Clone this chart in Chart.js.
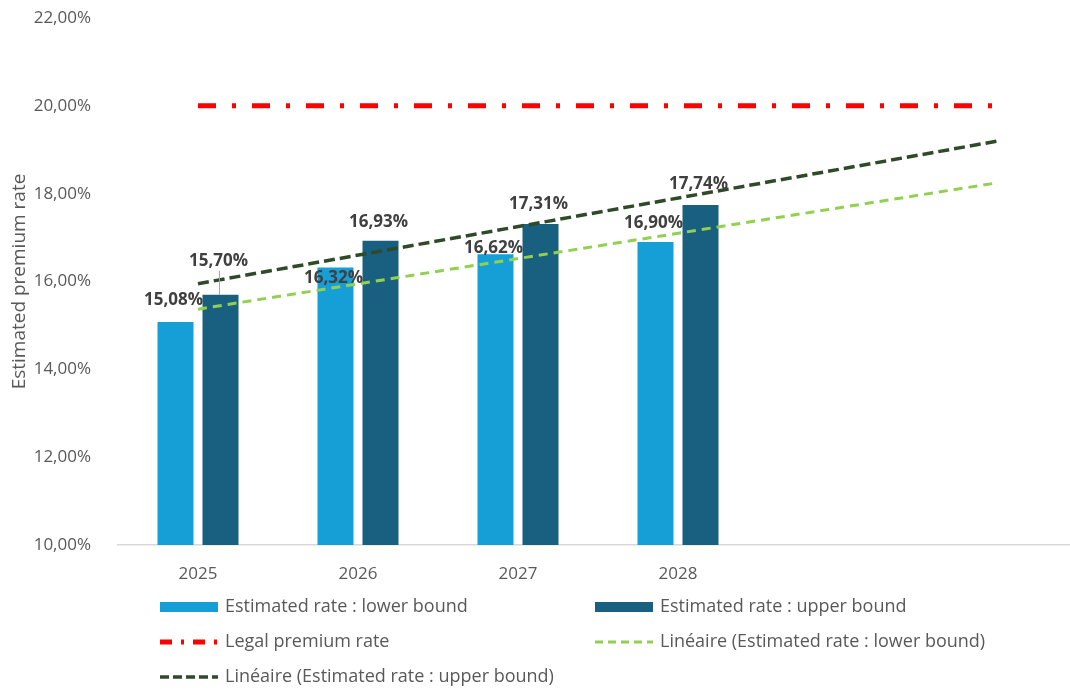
<!DOCTYPE html>
<html>
<head>
<meta charset="utf-8">
<script src="https://cdn.jsdelivr.net/npm/chart.js@4.4.1/dist/chart.umd.min.js"></script>
<style>
  html, body { margin: 0; padding: 0; background: #fff; overflow: hidden; }
  #wrap { width: 1078px; height: 689px; }
</style>
</head>
<body>
<div id="wrap"><canvas id="premium-chart"></canvas></div>
<script>
const years = ['2025', '2026', '2027', '2028', '', ''];
const lowerBound = [15.08, 16.32, 16.62, 16.90];
const upperBound = [15.70, 16.93, 17.31, 17.74];
const legalRate = [20, 20, 20, 20, 20, 20];
// linear trends: first year and end of the two-year forecast
const trendLower = [15.37, null, null, null, null, 18.25];
const trendUpper = [15.95, null, null, null, null, 19.20];
const yMin = 10, yMax = 22, yStep = 2;

const BLUE_LIGHT = '#169ed6';
const BLUE_DARK = '#185f80';
const RED = '#ff0000';
const GREEN_LIGHT = '#92d050';
const GREEN_DARK = '#2f4a28';
const TEXT = '#595959';
const FONT = "'Open Sans', sans-serif";

const pct = (v) => v.toFixed(2).replace('.', ',') + '%';

// label lift above each bar top (px), hand-placed like the original sheet
const liftLower = [22, -11, 6, 19];
const liftUpper = [34, 19, 20, 21];

const valueLabels = {
  id: 'valueLabels',
  afterDatasetsDraw(chart) {
    const ctx = chart.ctx;
    ctx.save();
    ctx.font = "bold 17px " + FONT;
    ctx.fillStyle = '#404040';
    ctx.textAlign = 'center';
    ctx.textBaseline = 'middle';
    [[0, lowerBound, liftLower], [1, upperBound, liftUpper]].forEach(([idx, vals, lift]) => {
      const meta = chart.getDatasetMeta(idx);
      meta.data.forEach((bar, i) => {
        const y = bar.y - lift[i];
        ctx.fillText(pct(vals[i]), bar.x - 2, y);
        if (idx === 1 && i === 0) {
          // leader line for the moved label
          ctx.strokeStyle = '#a6a6a6';
          ctx.lineWidth = 1;
          ctx.beginPath();
          ctx.moveTo(bar.x - 1, y + 10);
          ctx.lineTo(bar.x - 1, bar.y);
          ctx.stroke();
        }
      });
    });
    ctx.restore();
  }
};

const legendItems = [
  { text: 'Estimated rate : lower bound', kind: 'box', color: BLUE_LIGHT, x: 160, y: 607 },
  { text: 'Estimated rate : upper bound', kind: 'box', color: BLUE_DARK, x: 595, y: 607 },
  { text: 'Legal premium rate', kind: 'line', color: RED, width: 5, dash: [12, 9, 3, 9], x: 160, y: 642 },
  { text: 'Linéaire (Estimated rate : lower bound)', kind: 'line', color: GREEN_LIGHT, width: 3, dash: [8, 5], x: 595, y: 642 },
  { text: 'Linéaire (Estimated rate : upper bound)', kind: 'line', color: GREEN_DARK, width: 3.5, dash: [9, 4], x: 160, y: 677 }
];

const sideLegend = {
  id: 'sideLegend',
  afterDraw(chart) {
    const ctx = chart.ctx;
    ctx.save();
    ctx.font = "18px " + FONT;
    ctx.textBaseline = 'middle';
    ctx.textAlign = 'left';
    legendItems.forEach((it) => {
      if (it.kind === 'box') {
        ctx.fillStyle = it.color;
        ctx.fillRect(it.x, it.y - 5, 58, 10);
      } else {
        ctx.strokeStyle = it.color;
        ctx.lineWidth = it.width;
        ctx.setLineDash(it.dash);
        ctx.beginPath();
        ctx.moveTo(it.x, it.y);
        ctx.lineTo(it.x + 58, it.y);
        ctx.stroke();
        ctx.setLineDash([]);
      }
      ctx.fillStyle = TEXT;
      ctx.fillText(it.text, it.x + 65, it.y);
    });
    ctx.restore();
  }
};

new Chart(document.getElementById('premium-chart'), {
  type: 'bar',
  data: {
    labels: years,
    datasets: [
      {
        label: 'Estimated rate : lower bound',
        data: lowerBound,
        backgroundColor: BLUE_LIGHT,
        categoryPercentage: 0.5625,
        barPercentage: 0.8,
        order: 2
      },
      {
        label: 'Estimated rate : upper bound',
        data: upperBound,
        backgroundColor: BLUE_DARK,
        categoryPercentage: 0.5625,
        barPercentage: 0.8,
        order: 2
      },
      {
        type: 'line',
        label: 'Legal premium rate',
        data: legalRate,
        borderColor: RED,
        borderWidth: 5,
        borderDash: [18, 16, 4, 16],
        pointRadius: 0,
        order: 1
      },
      {
        type: 'line',
        label: 'Linéaire (Estimated rate : lower bound)',
        data: trendLower,
        borderColor: GREEN_LIGHT,
        borderWidth: 3,
        borderDash: [9, 6],
        spanGaps: true,
        pointRadius: 0,
        order: 1
      },
      {
        type: 'line',
        label: 'Linéaire (Estimated rate : upper bound)',
        data: trendUpper,
        borderColor: GREEN_DARK,
        borderWidth: 3.5,
        borderDash: [11, 5],
        spanGaps: true,
        pointRadius: 0,
        order: 0
      }
    ]
  },
  options: {
    responsive: true,
    maintainAspectRatio: false,
    animation: false,
    layout: { padding: { top: 18, right: 0, left: 0, bottom: 0 } },
    scales: {
      x: {
        grid: { display: false },
        border: { color: '#d9d9d9', width: 1.5 },
        ticks: { color: TEXT, font: { family: FONT, size: 17 }, padding: 11 },
        afterFit(scale) {
          scale.height = 144;
          scale.paddingLeft = 0;
          scale.paddingRight = 0;
        }
      },
      y: {
        min: yMin,
        max: yMax,
        grid: { display: false },
        border: { display: false },
        ticks: {
          stepSize: yStep,
          color: TEXT,
          font: { family: FONT, size: 17 },
          padding: 19,
          callback: (v) => pct(v)
        },
        title: {
          display: true,
          text: 'Estimated premium rate',
          color: TEXT,
          font: { family: FONT, size: 19 },
          padding: { top: 8, bottom: 0 }
        },
        afterFit(scale) {
          scale.width = 118;
          scale.paddingTop = 0;
          scale.paddingBottom = 0;
        }
      }
    },
    plugins: {
      legend: { display: false },
      tooltip: { enabled: false }
    }
  },
  plugins: [valueLabels, sideLegend]
});
</script>
</body>
</html>
